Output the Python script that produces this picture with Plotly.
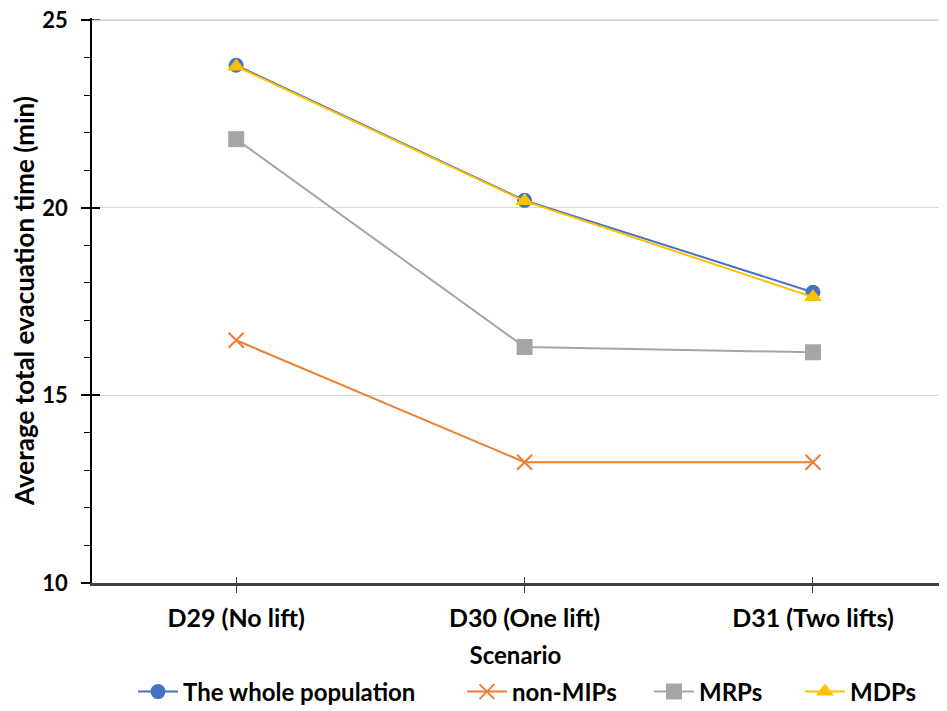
import plotly.graph_objects as go

scenarios = ["D29 (No lift)", "D30 (One lift)", "D31 (Two lifts)"]
whole_population = [23.8, 20.2, 17.75]
non_mips = [16.47, 13.22, 13.22]
mrps = [21.83, 16.29, 16.15]
mdps = [23.77, 20.18, 17.62]
y_major_ticks = [10, 15, 20, 25]

series = [
    ("The whole population", whole_population, "#4472C4", "circle", 15),
    ("non-MIPs", non_mips, "#ED7D31", "x-thin-open", 15),
    ("MRPs", mrps, "#A5A5A5", "square", 16),
    ("MDPs", mdps, "#FFC000", "triangle-up", 16),
]
legend_ids = ["legend", "legend2", "legend3", "legend4"]
legend_x = [0.0484, 0.4368, 0.6576, 0.8359]

FONT = "Lato"
W, H = 931, 703
fig = go.Figure()
for (name, vals, color, sym, sz), lid in zip(series, legend_ids):
    fig.add_trace(go.Scatter(
        x=list(range(len(scenarios))), y=vals, name=name, mode="lines+markers",
        legend=lid,
        line=dict(color=color, width=2),
        marker=dict(symbol=sym, size=sz, color=color,
                    line=dict(color=color, width=2 if sym == "x-thin-open" else 0)),
    ))

# invisible helper trace carrying the inner half of the crossing tick marks
fig.add_trace(go.Scatter(x=[None], y=[None], xaxis="x2", yaxis="y2",
                         showlegend=False, hoverinfo="skip"))

XR = [-0.5, 2.437]
YR = [9.9999, 25.06]
legend_font = dict(family=FONT, size=24, color="#000000", weight="bold")
layout_legends = {}
for lid, lx in zip(legend_ids, legend_x):
    layout_legends[lid] = dict(orientation="h", xref="paper", x=lx, xanchor="left",
                               yref="container", y=0.027, yanchor="middle",
                               font=legend_font, itemwidth=40,
                               bgcolor="rgba(0,0,0,0)")

fig.update_layout(
    width=W, height=H,
    margin=dict(l=84, r=0, t=10, b=128, autoexpand=False),
    paper_bgcolor="white", plot_bgcolor="white",
    font=dict(family=FONT, size=16, color="#000000"),
    showlegend=True,
    **layout_legends,
    xaxis2=dict(overlaying="x", range=XR, tickmode="array", tickvals=[0, 1, 2],
                showticklabels=False, ticks="inside", ticklen=6, tickwidth=1,
                tickcolor="#404040", showgrid=False, zeroline=False, showline=False,
                side="bottom"),
    yaxis2=dict(overlaying="y", range=YR, tickmode="array", tickvals=y_major_ticks,
                showticklabels=False, ticks="inside", ticklen=8, tickwidth=1.5,
                tickcolor="#000000", showgrid=False, zeroline=False, showline=False,
                side="left"),
    xaxis=dict(
        range=XR, tickmode="array", tickvals=list(range(len(scenarios))),
        ticktext=scenarios, showgrid=False, zeroline=False,
        showline=True, linecolor="#404040", linewidth=2.5,
        ticks="outside", ticklen=7, tickwidth=1, tickcolor="#404040",
        ticklabelstandoff=4,
        tickfont=dict(family=FONT, size=25, color="#000000", weight="bold"),
        title=dict(text="Scenario", font=dict(family=FONT, size=24, color="#000000", weight="bold"), standoff=17),
    ),
    yaxis=dict(
        range=YR, tickmode="array", tickvals=y_major_ticks,
        showgrid=True, gridcolor="#D9D9D9", gridwidth=1, zeroline=False,
        showline=True, linecolor="#000000", linewidth=1.5,
        ticks="outside", ticklen=9, tickwidth=1.5, tickcolor="#000000",
        ticklabelstandoff=9, ticklabeloverflow="allow",
        minor=dict(tickmode="linear", tick0=10, dtick=1, ticks="outside", ticklen=6,
                   tickcolor="#000000", tickwidth=1, showgrid=False),
        tickfont=dict(family=FONT, size=22, color="#000000", weight="bold"),
        title=dict(text="Average total evacuation time (min)", font=dict(family=FONT, size=26, color="#000000", weight="bold"), standoff=7),
    ),
)

# top gridline at the highest major tick (drawn explicitly, above the plot background)
fig.add_hline(y=y_major_ticks[-1], line=dict(color="#D0D0D0", width=1.5), layer="above")

fig.write_html("out.html")
